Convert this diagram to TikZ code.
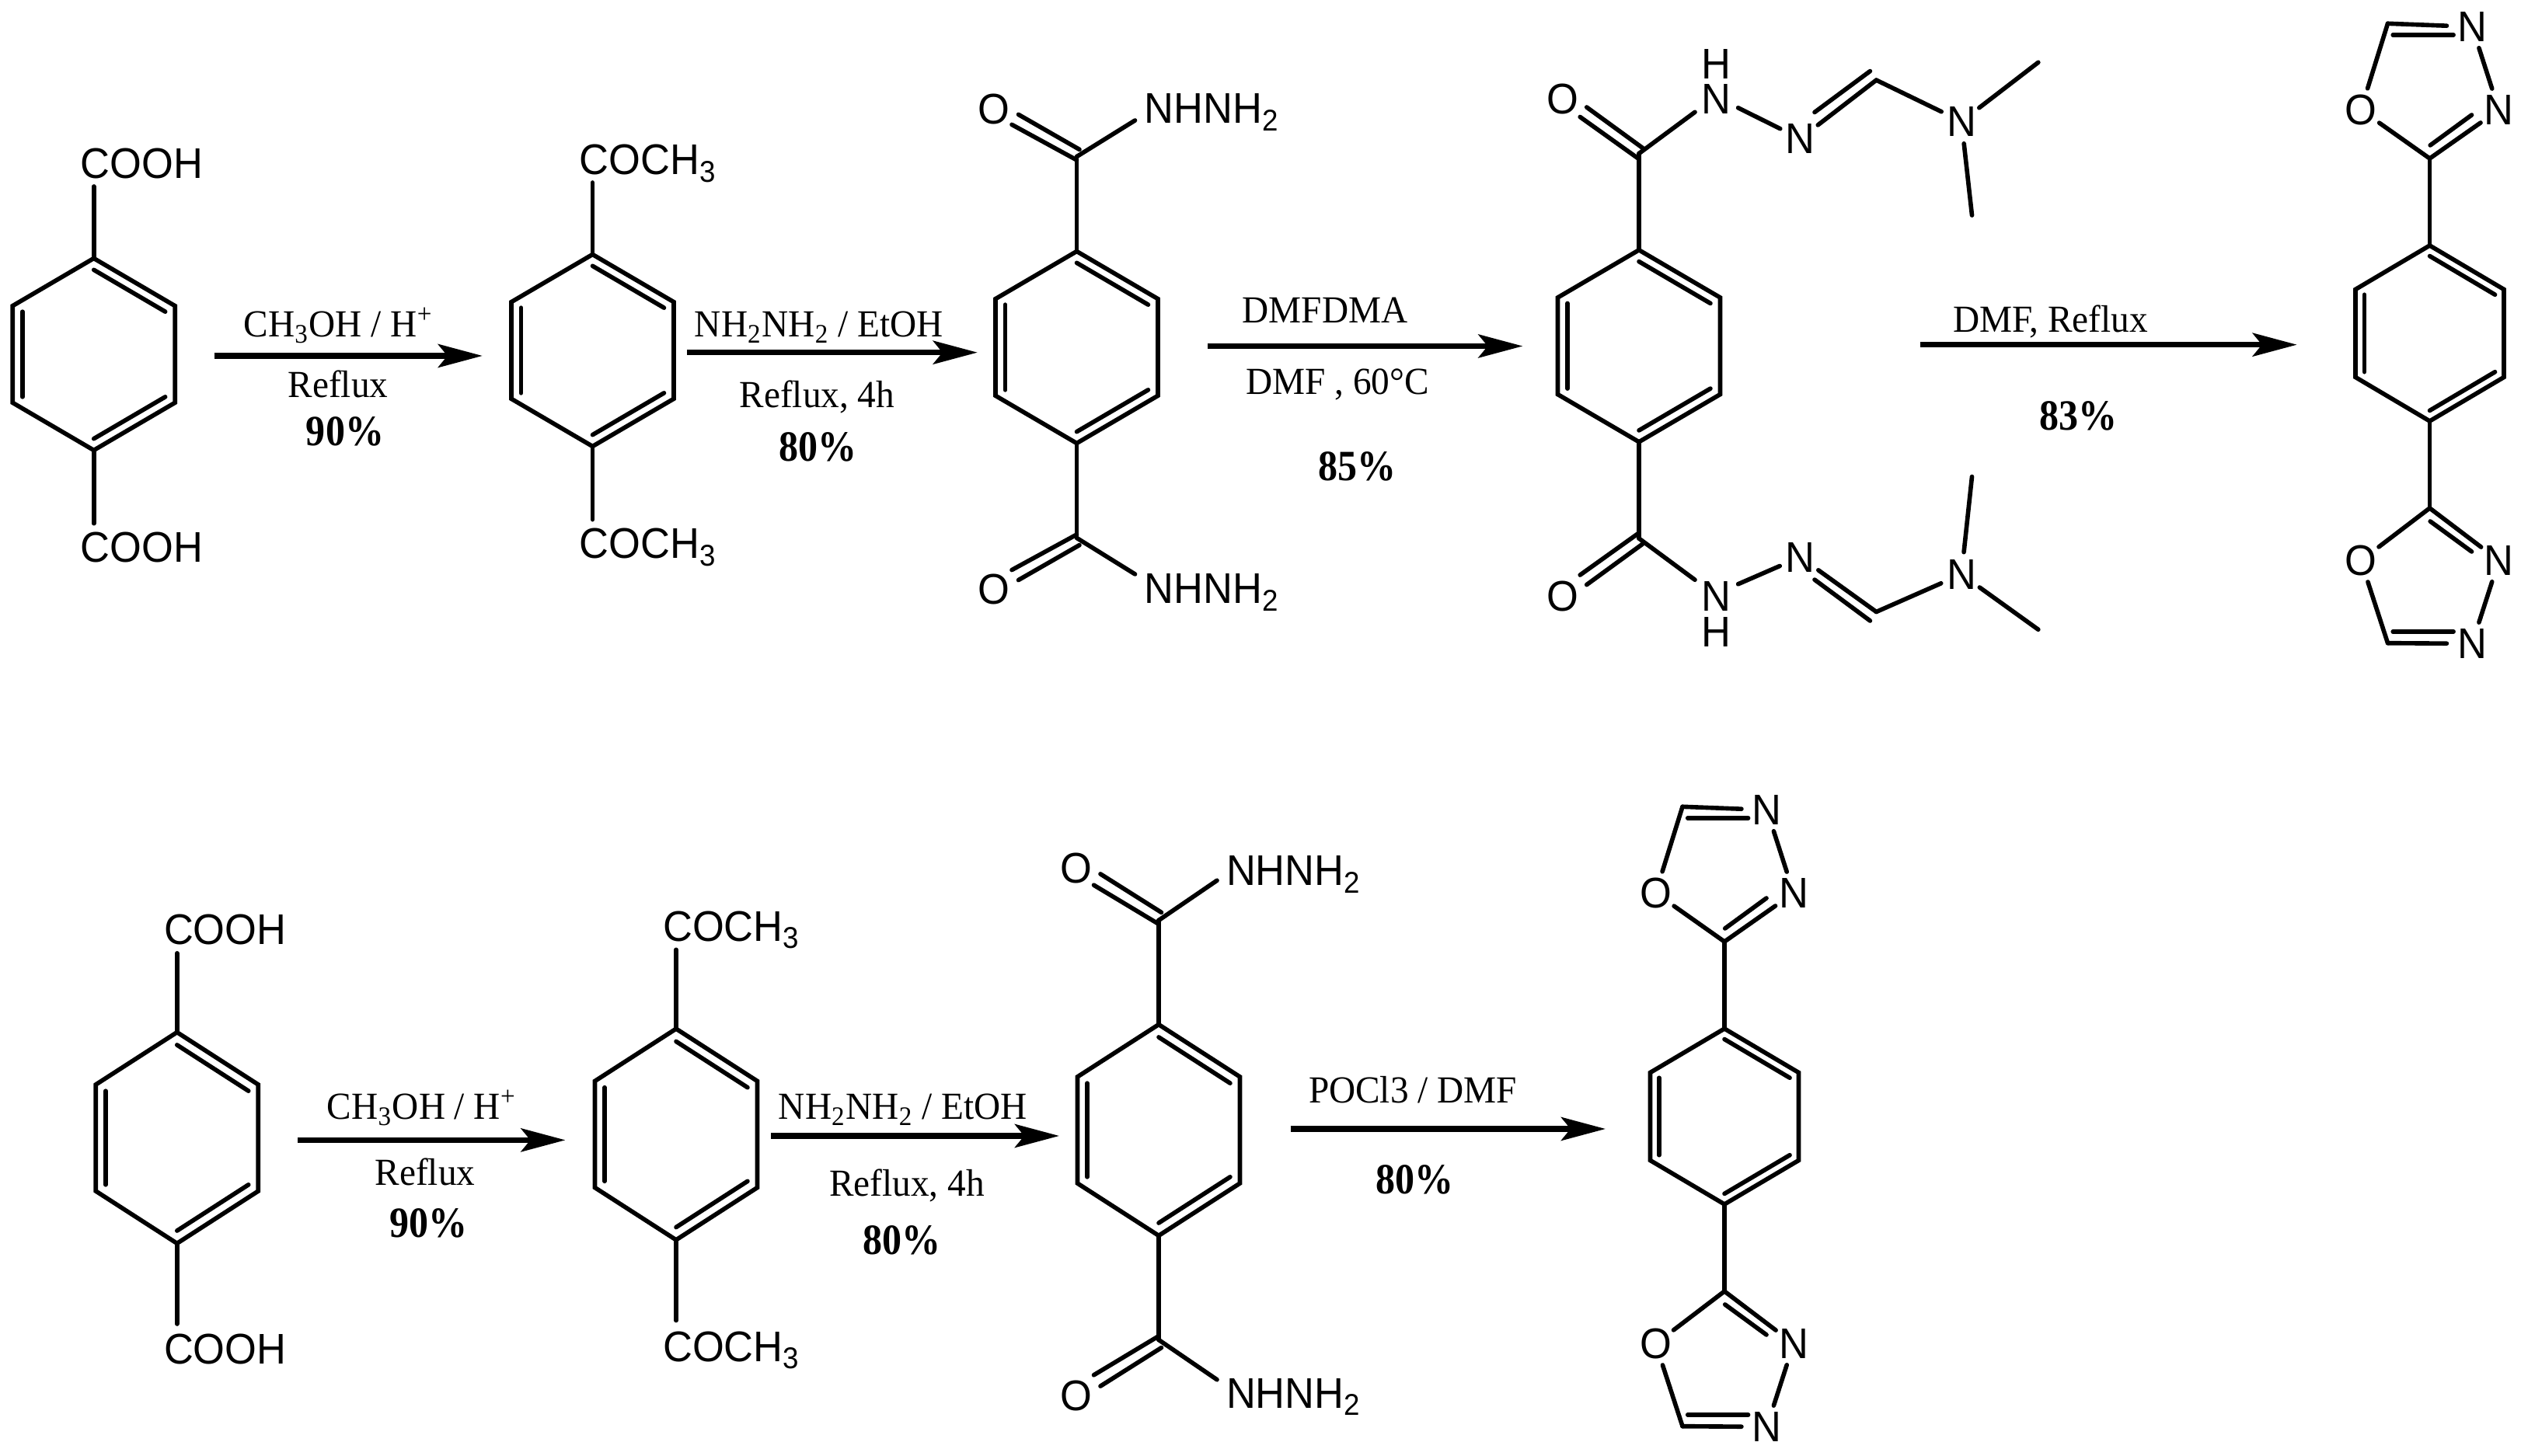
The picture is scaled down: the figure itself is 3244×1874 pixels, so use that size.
\documentclass[tikz,border=0pt]{standalone}
\usepackage{fontspec}
\setmainfont[FakeStretch=0.96]{Liberation Serif}
\newfontfamily\atomfont[FakeStretch=0.95]{Liberation Sans}
\newfontfamily\yieldfont[FakeStretch=0.9]{Liberation Serif Bold}
\usetikzlibrary{calc, arrows.meta}

\tikzset{
    bond/.style = {line width=1.6pt, line cap=round, line join=miter},
    rxnarrow/.style = {line width=2pt, -{Stealth[length=0.57cm, width=0.3cm, inset=0.12cm]}},
    atom/.style = {circle, inner sep=0pt, minimum size=0.56cm, yshift=-0.7pt, font=\atomfont\fontsize{15.7}{18}\selectfont},
    stacked/.style = {rectangle, inner sep=0pt, align=center, yshift=-0.7pt, font=\atomfont\fontsize{15.7}{12.9}\selectfont},
    group/.style = {anchor=base west, inner sep=0pt, font=\atomfont\fontsize{15.7}{18}\selectfont},
    reagent/.style = {anchor=base, inner sep=0pt, font=\fontsize{14}{16}\selectfont},
    yield/.style = {anchor=base, inner sep=0pt, font=\yieldfont\fontsize{15.8}{17}\selectfont}
}

% ring drawn around the origin of the current scope
\newcommand{\benzring}[4]{
    \coordinate (#1c) at (0,0);
    \coordinate (#1va) at (0,-#4);
    \coordinate (#1ur) at (#2,-#3);
    \coordinate (#1lr) at (#2,#3);
    \coordinate (#1vb) at (0,#4);
    \coordinate (#1ll) at (-#2,#3);
    \coordinate (#1ul) at (-#2,-#3);
    \draw[bond] (#1va) -- (#1ur) -- (#1lr) -- (#1vb) -- (#1ll) -- (#1ul) -- cycle;
    \draw[bond] ($(#1va)!.12!(#1c)$) -- ($(#1ur)!.12!(#1c)$);
    \draw[bond] ($(#1lr)!.12!(#1c)$) -- ($(#1vb)!.12!(#1c)$);
    \draw[bond] ($(#1ll)!.12!(#1c)$) -- ($(#1ul)!.12!(#1c)$);
}

% name, x, y, height factor, group text, lower baseline
\newcommand{\plainmol}[6]{
    \begin{scope}[shift={(#2,#3)}, yscale=#4]
        \benzring{#1}{104.5}{62.3}{123.5}
        \foreach \side/\bl/\be in {a/-226/-216, b/#6/217.7} {
            \coordinate (#1e\side) at (0,\be);
            \node[group] (#1g\side) at (-17.5,\bl) {#5};
            \draw[bond] (#1v\side) -- (#1e\side);
        }
    \end{scope}
}

% name, x, y, height factor, upper baseline, lower baseline
\newcommand{\hydrazide}[6]{
    \begin{scope}[shift={(#2,#3)}, yscale=#4]
        \benzring{#1}{104.5}{62.3}{123.5}
        \foreach \sgn/\side/\bl in {-1/a/#5, 1/b/#6} {
            \coordinate (#1k\side) at (0,\sgn*245.4);
            \node[atom] (#1o\side) at (-106.6,\sgn*309) {O};
            \node[group] (#1n\side) at (86.3,\bl) {NHNH\textsubscript{2}};
            \coordinate (#1ne\side) at (75,\sgn*292);
            \coordinate (#1da\side) at (0,\sgn*241);
            \coordinate (#1db\side) at (-83.5,\sgn*286.6);
            \coordinate (#1dc\side) at (3.5,\sgn*254.6);
            \coordinate (#1dd\side) at (-75,\sgn*299.6);
            \draw[bond] (#1v\side) -- (#1k\side);
            \draw[bond] (#1k\side) -- (#1ne\side);
            \draw[bond] (#1da\side) -- (#1db\side);
            \draw[bond] (#1dc\side) -- (#1dd\side);
        }
    \end{scope}
}

% name, x, y
\newcommand{\oxadiazole}[3]{
    \begin{scope}[shift={(#2,#3)}]
        \benzring{#1}{95.5}{56.5}{113}
        \foreach \sgn/\side in {-1/a, 1/b} {
            \coordinate (#1k\side) at (0,\sgn*225);
            \coordinate (#1h\side) at (-54,\sgn*398.7);
            \node[atom] (#1o\side) at (-88.5,\sgn*290) {O};
            \node[atom] (#1p\side) at (89,\sgn*290) {N};
            \node[atom] (#1q\side) at (54.6,\sgn*397) {N};
            \coordinate (#1ia\side) at (.7,\sgn*242);
            \coordinate (#1ib\side) at (54,\sgn*281);
            \coordinate (#1ic\side) at (-47.3,\sgn*384);
            \coordinate (#1id\side) at (30.6,\sgn*384);
            \draw[bond] (#1v\side) -- (#1k\side);
            \draw[bond] (#1k\side) -- (#1o\side);
            \draw[bond] (#1k\side) -- (#1p\side);
            \draw[bond] (#1ia\side) -- (#1ib\side);
            \draw[bond] (#1p\side) -- (#1q\side);
            \draw[bond, shorten >=0.04cm] (#1h\side) -- (#1q\side);
            \draw[bond] (#1ic\side) -- (#1id\side);
            \draw[bond] (#1h\side) -- (#1o\side);
        }
    \end{scope}
}

\begin{document}
\begin{tikzpicture}[x=0.01cm, y=-0.01cm]
    \useasboundingbox (0,0) rectangle (3244,1874);

    % upper route
    \plainmol{acidA}{120.7}{456}{1}{COOH}{267.6}
    \plainmol{esterA}{762.5}{451}{1}{COCH\textsubscript{3}}{267.6}
    \hydrazide{hydrA}{1385.5}{447}{1}{-288.2}{329.7}
    \begin{scope}[shift={(2109,445.3)}]
        \benzring{amid}{104.5}{62.3}{123.5}
        \foreach \sgn/\side/\nh in {-1/a/H\\N, 1/b/N\\H} {
            \coordinate (amidk\side) at (0,\sgn*247.7);
            \node[atom] (amido\side) at (-98.2,\sgn*320) {O};
            \node[stacked] (amidn\side) at (99,\sgn*342.75) {\nh};
            \coordinate (amidna\side) at (72,\sgn*301);
            \coordinate (amidnb\side) at (127.6,\sgn*306.5);
            \node[atom] (amidm\side) at (207.5,\sgn*269.3) {N};
            \node[atom] (amidr\side) at (415,\sgn*291.5) {N};
            \coordinate (amidc\side) at (305.4,\sgn*342.2);
            \coordinate (amidda\side) at (0,\sgn*240.6);
            \coordinate (amiddb\side) at (-75.8,\sgn*294.8);
            \coordinate (amiddc\side) at (4.9,\sgn*254.7);
            \coordinate (amiddd\side) at (-67.3,\sgn*307.3);
            \coordinate (amidia\side) at (297.4,\sgn*353.7);
            \coordinate (amidib\side) at (226,\sgn*300.8);
            \coordinate (amidme\side) at (513.8,\sgn*365);
            \coordinate (amidmf\side) at (428.5,\sgn*168.2);
            \draw[bond] (amidv\side) -- (amidk\side);
            \draw[bond] (amidda\side) -- (amiddb\side);
            \draw[bond] (amiddc\side) -- (amiddd\side);
            \draw[bond] (amidk\side) -- (amidna\side);
            \draw[bond] (amidnb\side) -- (amidm\side);
            \draw[bond] (amidc\side) -- (amidm\side);
            \draw[bond] (amidia\side) -- (amidib\side);
            \draw[bond] (amidc\side) -- (amidr\side);
            \draw[bond] (amidr\side) -- (amidme\side);
            \draw[bond] (amidr\side) -- (amidmf\side);
        }
    \end{scope}
    \oxadiazole{oxaA}{3126.5}{429}

    % lower route
    \plainmol{acidB}{227.8}{1464.5}{1.1}{COOH}{264.5}
    \plainmol{esterB}{870}{1460}{1.1}{COCH\textsubscript{3}}{265.5}
    \hydrazide{hydrB}{1491}{1454.5}{1.1}{-286.3}{325.4}
    \oxadiazole{oxaB}{2219}{1437}

    % reaction arrows
    \foreach \nm/\xa/\xb/\yy in {arrA1/275.7/620.8/458, arrA2/884/1257.8/453.7, arrA3/1553.9/1959.4/445.5, arrA4/2471/2955.7/443.7, arrB1/383/727.5/1467.4, arrB2/992/1363/1462, arrB3/1660.6/2066/1453} {
        \coordinate (\nm-s) at (\xa,\yy);
        \coordinate (\nm-e) at (\xb,\yy);
        \draw[rxnarrow] (\nm-s) -- (\nm-e);
    }

    \node[reagent] (condA1) at (435.6,433.6) {CH\textsubscript{3}OH / H\textsuperscript{+}};
    \node[reagent] (timeA1) at (435,512) {Reflux};
    \node[yield] (yieldA1) at (444,573.5) {90\%};
    \node[reagent] (condA2) at (1054,433.6) {NH\textsubscript{2}NH\textsubscript{2} / EtOH};
    \node[reagent] (timeA2) at (1051.5,524.7) {Reflux, 4h};
    \node[yield] (yieldA2) at (1052,593.5) {80\%};
    \node[reagent] (condA3) at (1705,416) {DMFDMA};
    \node[reagent] (timeA3) at (1721,508) {DMF , 60°C};
    \node[yield] (yieldA3) at (1746,619) {85\%};
    \node[reagent] (condA4) at (2638.5,428) {DMF, Reflux};
    \node[yield] (yieldA4) at (2674,554) {83\%};

    \node[reagent] (condB1) at (542.7,1440.8) {CH\textsubscript{3}OH / H\textsuperscript{+}};
    \node[reagent] (timeB1) at (547,1526) {Reflux};
    \node[yield] (yieldB1) at (551.5,1592.6) {90\%};
    \node[reagent] (condB2) at (1162,1440.8) {NH\textsubscript{2}NH\textsubscript{2} / EtOH};
    \node[reagent] (timeB2) at (1167,1539.5) {Reflux, 4h};
    \node[yield] (yieldB2) at (1160,1615) {80\%};
    \node[reagent] (condB3) at (1818,1420) {POCl3 / DMF};
    \node[yield] (yieldB3) at (1820,1537) {80\%};
\end{tikzpicture}
\end{document}
